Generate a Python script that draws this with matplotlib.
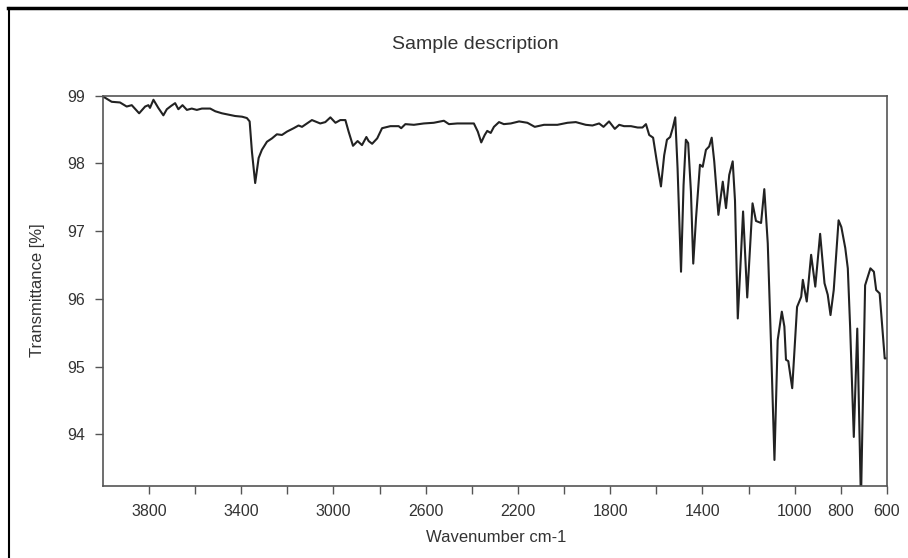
import matplotlib
matplotlib.use("Agg")
import matplotlib.pyplot as plt
from matplotlib.lines import Line2D
import numpy as np

wavenumber = [3997, 3961, 3925, 3896, 3874, 3842, 3816, 3802, 3795, 3780, 3759, 3737,
              3722, 3703, 3686, 3672, 3654, 3635, 3614, 3592, 3570, 3534, 3512, 3483,
              3455, 3426, 3396, 3375, 3363, 3353, 3339, 3324, 3310, 3288, 3266, 3245,
              3223, 3201, 3172, 3151, 3136, 3093, 3057, 3035, 3013, 2991, 2970, 2948,
              2934, 2915, 2895, 2876, 2857, 2847, 2832, 2810, 2789, 2753, 2717, 2706,
              2688, 2651, 2608, 2565, 2521, 2499, 2463, 2391, 2374, 2359, 2344, 2333,
              2318, 2304, 2282, 2261, 2231, 2195, 2159, 2127, 2087, 2029, 1985, 1949,
              1906, 1877, 1848, 1829, 1805, 1780, 1761, 1740, 1710, 1681, 1660, 1645,
              1631, 1614, 1598, 1580, 1566, 1554, 1540, 1529, 1518, 1508, 1493, 1482,
              1472, 1462, 1450, 1440, 1428, 1411, 1399, 1385, 1371, 1360, 1349, 1331,
              1312, 1298, 1284, 1269, 1259, 1247, 1236, 1224, 1206, 1183, 1168, 1146,
              1132, 1117, 1103, 1088, 1074, 1056, 1045, 1038, 1028, 1011, 990, 972,
              965, 948, 929, 911, 890, 871, 857, 845, 831, 810, 798, 781,
              770, 760, 744, 729, 719, 713, 695, 672, 657, 647, 632, 610,
              600]
transmittance = [98.985, 98.91, 98.90, 98.84, 98.86, 98.74, 98.84, 98.86, 98.82, 98.94, 98.82, 98.71,
                 98.80, 98.85, 98.89, 98.80, 98.86, 98.79, 98.81, 98.79, 98.81, 98.81, 98.77, 98.74,
                 98.72, 98.70, 98.69, 98.67, 98.62, 98.17, 97.71, 98.08, 98.20, 98.32, 98.37, 98.43,
                 98.42, 98.47, 98.52, 98.56, 98.54, 98.64, 98.59, 98.61, 98.68, 98.60, 98.64, 98.64,
                 98.47, 98.26, 98.33, 98.27, 98.39, 98.33, 98.29, 98.37, 98.52, 98.55, 98.55, 98.52,
                 98.58, 98.57, 98.59, 98.60, 98.63, 98.58, 98.59, 98.59, 98.47, 98.31, 98.42, 98.48,
                 98.45, 98.54, 98.61, 98.58, 98.59, 98.62, 98.60, 98.54, 98.57, 98.57, 98.60, 98.61,
                 98.57, 98.56, 98.59, 98.54, 98.62, 98.51, 98.57, 98.55, 98.55, 98.53, 98.53, 98.58,
                 98.42, 98.38, 98.03, 97.66, 98.12, 98.35, 98.39, 98.52, 98.68, 97.93, 96.40, 97.68,
                 98.35, 98.30, 97.58, 96.52, 97.19, 97.98, 97.95, 98.20, 98.25, 98.38, 98.03, 97.24,
                 97.73, 97.34, 97.83, 98.03, 97.45, 95.71, 96.45, 97.29, 96.02, 97.41, 97.15, 97.12,
                 97.62, 96.82, 95.34, 93.62, 95.39, 95.81, 95.59, 95.10, 95.08, 94.68, 95.88, 96.03,
                 96.28, 95.96, 96.65, 96.18, 96.96, 96.23, 96.06, 95.76, 96.13, 97.16, 97.06, 96.75,
                 96.45, 95.59, 93.96, 95.56, 94.00, 93.00, 96.20, 96.45, 96.40, 96.13, 96.08, 95.12,
                 95.12]

xticks = np.arange(3800, 599, -200)
xlabels = ["3800", "", "3400", "", "3000", "", "2600", "", "2200", "", "1800", "",
           "1400", "", "1000", "800", "600"]
yticks = [94, 95, 96, 97, 98, 99]

plt.rcParams['font.family'] = ['Liberation Sans', 'DejaVu Sans']
txt = '#333333'
spine = '#555555'

fig = plt.figure(figsize=(9.08, 5.58), dpi=100)
ax = fig.add_axes([0.1131, 0.1296, 0.8638, 0.6989])

ax.plot(wavenumber, transmittance, color='#222222', lw=1.5)
ax.set_xlim(4000, 600)
ax.set_ylim(93.24, 99.0)
ax.set_xticks(xticks)
ax.set_xticklabels(xlabels)
ax.set_yticks(yticks)
ax.tick_params(direction='out', length=6, width=1.0, color=spine,
               labelsize=11.5, labelcolor=txt, pad=7)
for s in ax.spines.values():
    s.set_color(spine)
    s.set_linewidth(1.2)

fig.text(0.523, 0.921, "Sample description", ha='center', va='center',
         fontsize=14, color=txt)
fig.text(0.547, 0.037, "Wavenumber cm-1", ha='center', va='center',
         fontsize=12, color=txt)
fig.text(0.041, 0.48, "Transmittance [%]", ha='center', va='center',
         rotation=90, fontsize=12, color=txt)

# page frame lines (top and left)
fig.add_artist(Line2D([0.009, 1.0], [0.985, 0.985], transform=fig.transFigure,
                      color='black', lw=2.5))
fig.add_artist(Line2D([0.010, 0.010], [0.0, 0.985], transform=fig.transFigure,
                      color='black', lw=1.5))

fig.savefig("out.png", dpi=100)
